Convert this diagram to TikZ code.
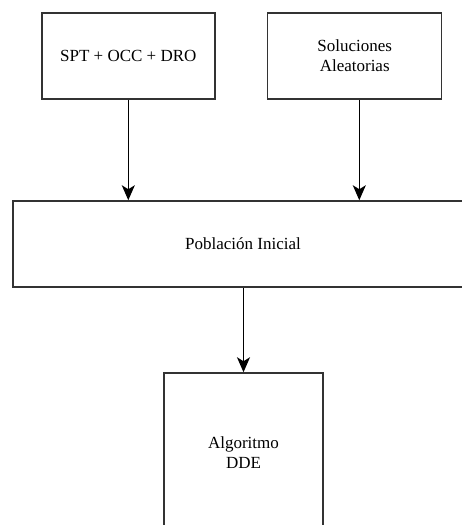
\documentclass[tikz,border=0pt]{standalone}
\usepackage{fontspec}
\setmainfont{Liberation Serif}
\usetikzlibrary{arrows.meta}
\begin{document}
\begin{tikzpicture}[x=1pt,y=-1pt,
  box/.style={draw=black!80, line width=1.5pt, fill=white, align=center,
    inner sep=0pt, font=\fontsize{17}{20}\selectfont},
  link/.style={draw=black, line width=1.6pt,
    -{Stealth[length=15pt,width=13pt,inset=4pt]}}]
  \useasboundingbox (0,0) rectangle (462,525);
  \clip (0,0) rectangle (462,525);
  % input boxes
  \node[box, minimum width=173pt, minimum height=86pt] (spt) at (128.3,56) {SPT + OCC + DRO};
  \node[box, minimum width=174pt, minimum height=86pt] (sol) at (354.7,56) {Soluciones\\Aleatorias};
  % initial population (runs off the right edge)
  \node[box, minimum width=460pt, minimum height=86pt] (pob) at (243,244) {Población Inicial};
  % algorithm box (runs off the bottom edge)
  \node[box, minimum width=159pt, minimum height=160pt] (dde) at (243.5,453) {Algoritmo\\DDE};
  % connectors
  \draw[link] (spt.south) -- (spt.south |- pob.north);
  \coordinate (solout) at ([xshift=4.6pt]sol.south);
  \draw[link] (solout) -- (solout |- pob.north);
  \draw[link] (pob.south -| dde.north) -- (dde.north);
\end{tikzpicture}
\end{document}
